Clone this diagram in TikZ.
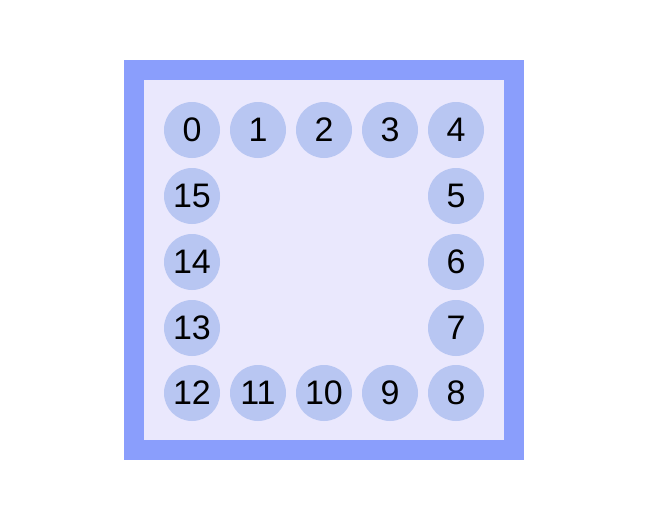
\documentclass[tikz,border=0pt]{standalone}
\usepackage{fontspec}
\setmainfont{Liberation Sans}
\definecolor{frameblue}{HTML}{8A9EFC}
\definecolor{panelfill}{HTML}{EAE8FD}
\definecolor{cellfill}{HTML}{B8C6F2}
\begin{document}
\begin{tikzpicture}[x=1pt,y=-1pt,
    cell/.style={circle,fill=cellfill,minimum size=56pt,inner sep=0pt,font=\fontsize{34}{34}\selectfont}]
    \useasboundingbox (0,0) rectangle (648,520);
    \fill[frameblue] (124,60) rectangle (524,460);
    \fill[panelfill] (144,80) rectangle (504,440);

    \node[cell] (c0)  at (192,130) {0};
    \node[cell] (c1)  at (258,130) {1};
    \node[cell] (c2)  at (324,130) {2};
    \node[cell] (c3)  at (390,130) {3};
    \node[cell] (c4)  at (456,130) {4};

    \node[cell] (c15) at (192,196) {15};
    \node[cell] (c5)  at (456,196) {5};
    \node[cell] (c14) at (192,262) {14};
    \node[cell] (c6)  at (456,262) {6};
    \node[cell] (c13) at (192,328) {13};
    \node[cell] (c7)  at (456,328) {7};

    \node[cell] (c12) at (192,393) {12};
    \node[cell] (c11) at (258,393) {11};
    \node[cell] (c10) at (324,393) {10};
    \node[cell] (c9)  at (390,393) {9};
    \node[cell] (c8)  at (456,393) {8};
\end{tikzpicture}
\end{document}
